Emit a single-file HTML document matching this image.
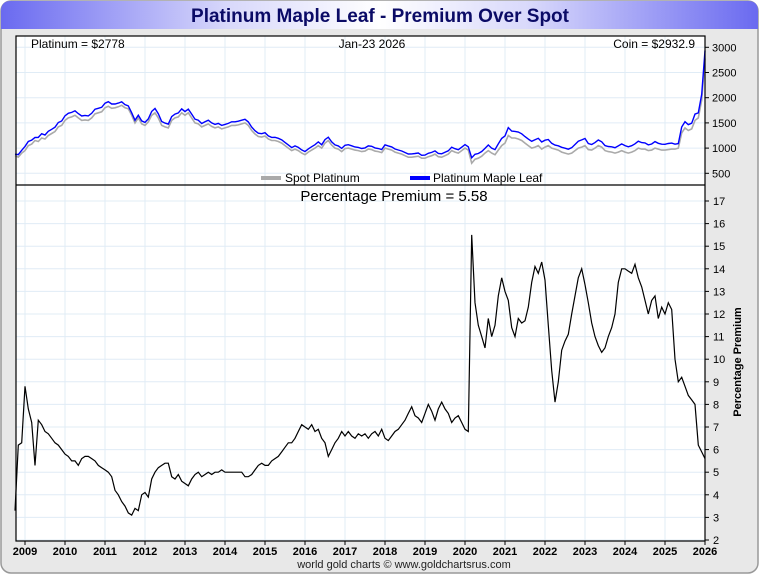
<!DOCTYPE html>
<html><head><meta charset="utf-8"><style>
html,body{margin:0;padding:0;background:#fff}
svg{display:block;font-family:"Liberation Sans",sans-serif}
</style></head><body>
<svg id="c" width="760" height="575" viewBox="0 0 760 575">
<defs>
<linearGradient id="hg" x1="0" x2="1" y1="0" y2="0">
<stop offset="0" stop-color="#6a6af0"/><stop offset="0.3" stop-color="#d8d8fb"/><stop offset="0.5" stop-color="#ffffff"/><stop offset="0.7" stop-color="#d8d8fb"/><stop offset="1" stop-color="#6a6af0"/>
</linearGradient>
</defs>
<rect x="1" y="1" width="757" height="572" rx="10" fill="#e8e8e8" stroke="#999" stroke-width="1.5"/>
<path d="M1,29 L1,11 Q1,1 11,1 L748,1 Q758,1 758,11 L758,29 Z" fill="url(#hg)"/>
<text x="380" y="22" text-anchor="middle" font-size="19" font-weight="bold" fill="#0b0b66">Platinum Maple Leaf - Premium Over Spot</text>
<rect x="16" y="36" width="689" height="505" fill="#fff"/>
<g id="grid"></g>
<g id="series"></g>
<rect x="16" y="36" width="689" height="505" fill="none" stroke="#000" stroke-width="1.2"/>
<line x1="16" y1="185" x2="705" y2="185" stroke="#000" stroke-width="1.2"/>
<g id="axes"></g>
<text x="31" y="48" font-size="12">Platinum = $2778</text>
<text x="372" y="48" text-anchor="middle" font-size="12">Jan-23  2026</text>
<text x="695" y="48" text-anchor="end" font-size="12">Coin = $2932.9</text>
<g>
<rect x="261" y="176" width="20" height="4" fill="#aaa"/>
<text x="285" y="182" font-size="12">Spot Platinum</text>
<rect x="410" y="176" width="20" height="4" fill="#0000ff"/>
<text x="433" y="182" font-size="12">Platinum Maple Leaf</text>
</g>
<text x="394" y="201" text-anchor="middle" font-size="15">Percentage Premium = 5.58</text>
<text x="741" y="362" text-anchor="middle" font-size="11" font-weight="bold" transform="rotate(-90 741 362)">Percentage Premium</text>
<text x="404" y="568" text-anchor="middle" font-size="11" fill="#222">world gold charts © www.goldchartsrus.com</text>
</svg>
<script>
const years=[2009,2010,2011,2012,2013,2014,2015,2016,2017,2018,2019,2020,2021,2022,2023,2024,2025,2026];
const priceTicks=[500,1000,1500,2000,2500,3000];
const premTicks=[2,3,4,5,6,7,8,9,10,11,12,13,14,15,16,17];
const startYear=2008.75;
// monthly premium %, Oct 2008 .. Jan 2026
const premium=[3.3,6.2,6.3,
8.8,7.8,7.2,5.3,7.3,7.1,6.8,6.7,6.5,6.3,6.2,6.0,
5.8,5.7,5.5,5.5,5.3,5.6,5.7,5.7,5.6,5.5,5.3,5.2,
5.1,5.0,4.8,4.2,4.0,3.7,3.5,3.2,3.1,3.4,3.3,4.0,
4.1,3.9,4.7,5.0,5.2,5.3,5.4,5.4,4.8,4.7,4.9,4.6,
4.5,4.4,4.7,4.9,5.0,4.8,4.9,5.0,4.9,5.0,5.0,5.1,
5.0,5.0,5.0,5.0,5.0,5.0,4.8,4.8,4.9,5.1,5.3,5.4,
5.3,5.3,5.5,5.6,5.7,5.9,6.1,6.3,6.3,6.5,6.8,7.1,
7.0,6.9,7.1,6.8,6.9,6.5,6.3,5.7,6.0,6.3,6.5,6.8,
6.6,6.8,6.6,6.5,6.7,6.6,6.7,6.5,6.7,6.8,6.6,6.9,
6.5,6.4,6.6,6.8,6.9,7.1,7.3,7.6,7.9,7.5,7.4,7.2,
7.6,8.0,7.7,7.3,7.8,8.1,7.8,7.6,7.2,7.4,7.5,7.2,
6.9,6.8,15.5,12.5,11.5,11.0,10.5,11.8,11.0,11.5,12.8,13.6,
13.0,12.6,11.4,11.0,11.8,11.6,11.7,12.3,13.4,14.1,13.8,14.3,
13.5,11.5,9.5,8.1,9.0,10.4,10.8,11.1,12.0,12.8,13.6,14.0,
13.3,12.5,11.6,11.0,10.6,10.3,10.5,11.0,11.4,12.0,13.4,14.0,
14.0,13.9,13.8,14.2,13.6,13.2,12.6,12.0,12.6,12.8,11.8,12.3,
12.0,12.5,12.2,10.0,9.0,9.2,8.8,8.4,8.2,8.0,6.2,5.9,
5.6];
// monthly spot platinum $/oz
const spot=[850,820,900,
950,1050,1080,1150,1130,1200,1180,1250,1290,1330,1420,1450,
1550,1600,1620,1650,1600,1550,1560,1550,1600,1680,1700,1720,
1800,1830,1790,1800,1820,1850,1800,1780,1650,1500,1600,1480,
1450,1520,1650,1700,1600,1450,1420,1400,1550,1600,1620,1700,
1650,1700,1600,1500,1480,1420,1450,1480,1430,1400,1420,1380,
1400,1420,1450,1450,1460,1480,1500,1450,1350,1280,1230,1220,
1240,1180,1150,1150,1130,1100,1050,1000,950,980,950,900,
870,920,960,1000,1050,1000,1100,1150,1060,1000,980,930,
990,1000,980,960,950,930,940,980,970,940,930,910,
1000,980,960,920,900,880,850,820,820,830,840,800,
800,830,850,880,830,820,850,880,950,920,900,950,
1000,960,700,780,800,840,900,950,900,870,960,1050,
1100,1250,1200,1200,1180,1150,1100,1050,1000,1020,1050,980,
1020,1050,1000,980,960,920,900,880,900,950,1000,1020,
1050,970,960,1000,1050,1020,950,930,920,900,920,950,
920,900,920,950,1000,980,980,950,960,1000,980,960,
960,970,980,980,1000,1300,1400,1350,1380,1550,1600,1950,
2778];

const X0=16,X1=705;
function xs(i){const t=startYear+i/12;return 25+(t-2009)*40;}
function yP(v){return 47.3+(3000-v)/500*25.2;}
function yR(v){return 540-(v-2)*22.6;}
const NS="http://www.w3.org/2000/svg";
function mk(tag,attrs,parent){const e=document.createElementNS(NS,tag);for(const k in attrs)e.setAttribute(k,attrs[k]);parent.appendChild(e);return e;}
const grid=document.getElementById('grid'),axes=document.getElementById('axes'),ser=document.getElementById('series');
years.forEach(y=>{const x=25+(y-2009)*40;
 const g=mk('line',{x1:x,x2:x,y1:36,y2:541,stroke:'#e0ecf6','stroke-width':1},grid);
 
 
 const t=mk('text',{x:x,y:555,'text-anchor':'middle','font-size':11,'font-weight':'bold'},axes);
 t.textContent=y;
 
 
 mk('line',{x1:x,x2:x,y1:541,y2:545,stroke:'#000'},axes);
});
priceTicks.forEach(v=>{const y=yP(v);
 mk('line',{x1:X0,x2:X1,y1:y,y2:y,stroke:'#e0ecf6'},grid);
 mk('line',{x1:X1,x2:X1+4,y1:y,y2:y,stroke:'#000'},axes);
 const t=mk('text',{x:712,y:y+4,'font-size':11},axes);t.textContent=v;
 
 
});
premTicks.forEach(v=>{const y=yR(v);
 mk('line',{x1:X0,x2:X1,y1:y,y2:y,stroke:'#e0ecf6'},grid);
 mk('line',{x1:X1,x2:X1+4,y1:y,y2:y,stroke:'#000'},axes);
 const t=mk('text',{x:713,y:y+4,'font-size':11},axes);t.textContent=v;
 
 
});
function path(arr,fy){return arr.map((v,i)=>(i?'L':'M')+Math.min(xs(i),X1).toFixed(1)+','+fy(v).toFixed(1)).join(' ');}
const coin=spot.map((s,i)=>s*(1+premium[i]/100));
const p1=mk('path',{d:path(spot,yP),fill:'none',stroke:'#aaa','stroke-width':1.6},ser);


const p2=mk('path',{d:path(coin,yP),fill:'none',stroke:'#0000ff','stroke-width':1.4},ser);


const p3=mk('path',{d:path(premium,yR),fill:'none',stroke:'#000','stroke-width':1.2},ser);


</script>
</body></html>
